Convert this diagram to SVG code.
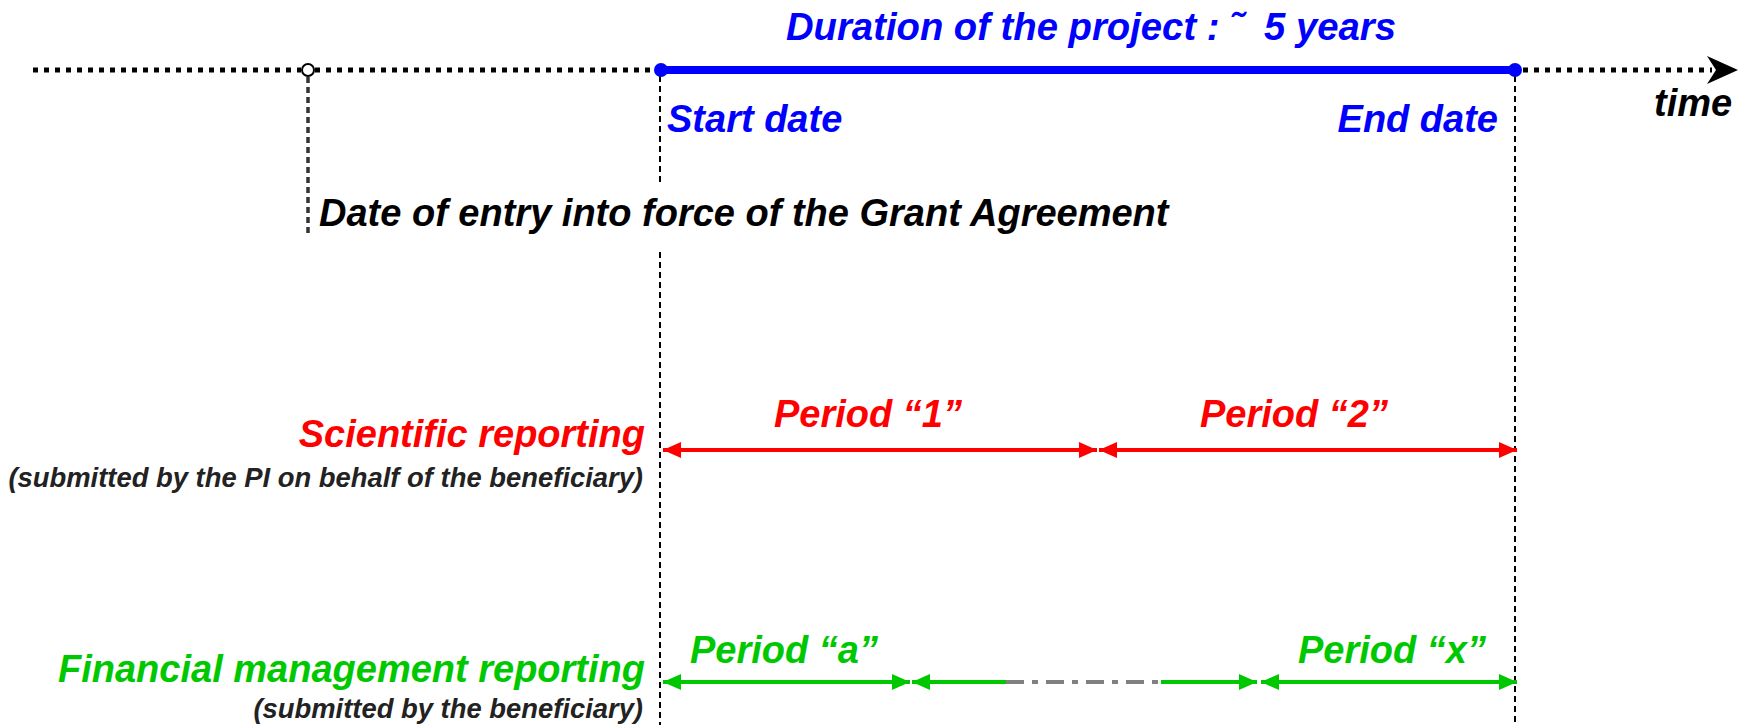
<svg xmlns="http://www.w3.org/2000/svg" width="1744" height="725" viewBox="0 0 1744 725">
<style>
.t{font-family:"Liberation Sans",Arial,sans-serif;font-weight:bold;font-style:italic;font-size:38px}
.s{font-family:"Liberation Sans",Arial,sans-serif;font-weight:bold;font-style:italic;font-size:27.4px;fill:#222}
.blue{fill:#0000ff}.red{fill:#ff0000}.green{fill:#00c800}.black{fill:#000}
.dots{stroke:#000;stroke-width:5;stroke-dasharray:5 6;fill:none}
.vdash{stroke:#000;stroke-width:2;stroke-dasharray:6 4;fill:none}
.vdash2{stroke:#333;stroke-width:3.5;stroke-dasharray:6 4;fill:none}
.redl{stroke:#ff0000;stroke-width:4;fill:none}
.greenl{stroke:#00c800;stroke-width:4;fill:none}
.greyl{stroke:#808080;stroke-width:4;stroke-dasharray:18 8 6 8;fill:none}
</style>
<defs>
<marker id="ar" viewBox="0 0 18 16" refX="18" refY="8" markerWidth="18" markerHeight="16" markerUnits="userSpaceOnUse" orient="auto-start-reverse"><path d="M0,0 L18,8 L0,16 Z" fill="#ff0000"/></marker>
<marker id="ag" viewBox="0 0 18 16" refX="18" refY="8" markerWidth="18" markerHeight="16" markerUnits="userSpaceOnUse" orient="auto-start-reverse"><path d="M0,0 L18,8 L0,16 Z" fill="#00c800"/></marker>
</defs>
<rect width="1744" height="725" fill="#fff"/>
<g id="connectors">
<line class="dots" x1="33" y1="70" x2="301" y2="70"/>
<line class="dots" x1="315" y1="70" x2="654" y2="70"/>
<line class="dots" x1="1523" y1="70" x2="1712" y2="70"/>
<path d="M1738,70 L1707,56 L1716,70 L1707,84 Z" fill="#000"/>
<line x1="661" y1="70" x2="1515" y2="70" stroke="#0000ff" stroke-width="8"/>
<line class="vdash2" x1="308" y1="77" x2="308" y2="234"/>
<line class="vdash" x1="660" y1="76" x2="660" y2="182"/>
<line class="vdash" x1="660" y1="252" x2="660" y2="725"/>
<line class="vdash" x1="1515" y1="76" x2="1515" y2="725"/>
<line class="redl" x1="663" y1="450" x2="1097" y2="450" marker-start="url(#ar)" marker-end="url(#ar)"/>
<line class="redl" x1="1099" y1="450" x2="1517" y2="450" marker-start="url(#ar)" marker-end="url(#ar)"/>
<line class="greenl" x1="663" y1="682" x2="910" y2="682" marker-start="url(#ag)" marker-end="url(#ag)"/>
<line class="greenl" x1="912" y1="682" x2="1006" y2="682" marker-start="url(#ag)"/>
<line class="greyl" x1="1006" y1="682" x2="1161" y2="682"/>
<line class="greenl" x1="1161" y1="682" x2="1257" y2="682" marker-end="url(#ag)"/>
<line class="greenl" x1="1261" y1="682" x2="1517" y2="682" marker-start="url(#ag)" marker-end="url(#ag)"/>
</g>
<g id="entry-point"><circle cx="308" cy="70" r="6" fill="#fff" stroke="#000" stroke-width="2"/></g>
<g id="start-point"><circle cx="661" cy="70" r="7" fill="#0000ff"/></g>
<g id="end-point"><circle cx="1515" cy="70" r="7" fill="#0000ff"/></g>
<g id="duration"><text class="t blue" x="786" y="40" textLength="610" lengthAdjust="spacingAndGlyphs">Duration of the project :&#160;˜&#160;&#160;5 years</text></g>
<g id="start-date"><text class="t blue" x="667" y="132">Start date</text></g>
<g id="end-date"><text class="t blue" x="1498" y="132" text-anchor="end">End date</text></g>
<g id="time"><text class="t black" x="1654" y="116">time</text></g>
<g id="entry-date"><text class="t black" x="319" y="226">Date of entry into force of the Grant Agreement</text></g>
<g id="scientific"><text class="t red" x="645" y="447" text-anchor="end">Scientific reporting</text><text class="s" x="643" y="487" text-anchor="end">(submitted by the PI on behalf of the beneficiary)</text></g>
<g id="period-1"><text class="t red" x="774" y="427">Period “1”</text></g>
<g id="period-2"><text class="t red" x="1200" y="427">Period “2”</text></g>
<g id="financial"><text class="t green" x="645" y="682" text-anchor="end">Financial management reporting</text><text class="s" x="643" y="718" text-anchor="end">(submitted by the beneficiary)</text></g>
<g id="period-a"><text class="t green" x="690" y="663">Period “a”</text></g>
<g id="period-x"><text class="t green" x="1298" y="663">Period “x”</text></g>
</svg>
